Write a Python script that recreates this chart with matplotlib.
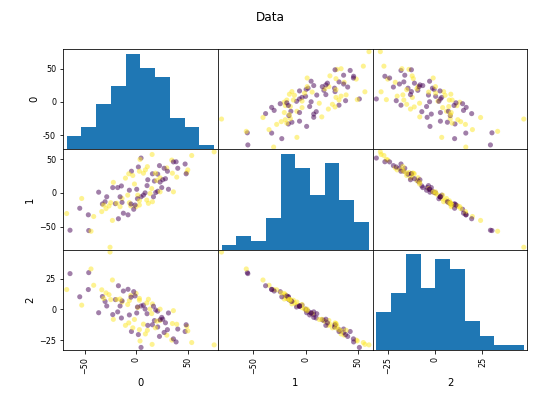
import pandas as pd
import matplotlib
matplotlib.use('Agg')
import matplotlib.pyplot as plt
from matplotlib.ticker import MultipleLocator
from pandas.plotting import scatter_matrix

# values (100 samples, 3 features, 2 classes)
col0 = [75.2, 4.5, 3.5, 15.2, 53.5, 34.2, 35.8, 38.4, 47.1, 22.3,
        29.4, 26.8, 30.0, 40.0, 49.7, 48.7, 48.1, 10.6, 8.7, 6.8,
        1.9, -4.8, -7.4, -3.5, -10.6, 2.9, 15.5, 20.6, 18.4, 22.9,
        34.8, 39.0, 11.0, 17.4, 19.7, 25.5, 28.1, 22.9, -22.3, -14.5,
        -18.1, -22.9, -1.9, 10.3, 14.8, 24.5, 31.0, 0.3, -6.8, -36.5,
        -28.7, 8.4, 6.8, 4.5, 1.3, 18.7, 20.6, 22.9, -8.4, -13.9,
        -52.9, 1.0, 2.9, 10.0, 15.5, -30.3, -32.9, -31.6, -24.8, -26.5,
        -20.3, -13.9, -15.8, -6.8, -5.5, -5.2, 2.9, -0.3, -54.8, -2.6,
        -29.4, -67.4, -46.5, -41.3, -8.1, -17.4, -23.2, -64.2, -46.1, -43.9,
        -25.5, -33.5, -12.6, -19.0, -1.3, 11.6, -15.8, 13.2, 16.5, 35.8]

col1 = [60.7, 51.5, 49.5, 56.8, 55.3, 48.5, 45.8, 46.0, 42.7, 40.3,
        36.9, 36.4, 32.0, 36.4, 34.0, 30.1, 28.2, 38.8, 34.0, 29.1,
        38.3, 32.0, 28.2, 25.7, 21.8, 32.0, 28.2, 27.7, 29.1, 22.3,
        29.1, 23.3, 19.4, 17.5, 18.4, 19.4, 20.9, 16.0, 15.5, 10.2,
        7.8, 7.8, 13.1, 10.7, 6.3, 7.8, 5.3, 5.3, 3.9, 1.0,
        -5.8, 0.0, -3.4, -5.8, -3.4, 0.5, 2.4, 1.5, -3.4, -8.3,
        -8.3, -8.7, -11.7, -10.7, -13.1, -13.1, -16.5, -18.0, -14.6, -19.4,
        -16.0, -14.1, -20.4, -14.6, -19.4, -16.5, -18.0, -20.4, -22.8, -24.3,
        -23.3, -30.6, -32.5, -35.0, -32.5, -38.3, -40.8, -55.3, -55.8, -56.8,
        -80.5, -27.7, -30.1, -15.5, -18.0, -15.5, -5.8, -1.0, -5.8, 1.5]

col2 = [-28.9, -31.0, -25.7, -28.5, -27.0, -25.0, -24.0, -26.5, -18.0, -22.0,
        -21.0, -18.8, -16.5, -16.0, -17.5, -13.8, -12.5, -17.0, -20.0, -12.0,
        -20.5, -18.0, -11.0, -15.0, -13.0, -16.5, -12.5, -14.3, -15.0, -9.0,
        -11.5, -12.1, -13.0, -9.1, -9.6, -8.0, -10.9, -8.4, -8.1, -7.0,
        -2.0, -4.2, -8.2, -3.5, -3.4, -6.5, -2.9, -2.9, -4.5, -2.7,
        2.8, 0.3, 3.5, 2.8, 1.5, -0.5, -1.4, 0.2, 4.0, 6.0,
        3.5, 2.0, 7.5, 5.3, 4.5, 6.5, 10.5, 9.0, 8.0, 12.0,
        8.0, 7.0, 8.5, 7.2, 11.5, 10.0, 9.0, 13.0, 10.3, 14.5,
        13.5, 16.2, 16.2, 19.7, 16.4, 19.3, 24.0, 29.2, 30.0, 33.0,
        46.8, 16.0, 15.0, 8.1, 11.0, 8.3, 2.8, 0.3, 2.6, -1.0]

# 0 = purple, 1 = yellow
labels = [1, 0, 1, 1, 1, 1, 0, 0, 0, 0,
          1, 0, 0, 0, 1, 1, 0, 1, 1, 1,
          0, 0, 1, 1, 1, 1, 0, 0, 1, 1,
          1, 1, 0, 0, 1, 0, 0, 0, 1, 0,
          0, 0, 1, 0, 1, 0, 0, 0, 0, 0,
          0, 0, 0, 0, 1, 0, 0, 1, 1, 1,
          1, 0, 1, 1, 1, 0, 0, 1, 1, 1,
          0, 0, 1, 1, 1, 0, 1, 1, 0, 0,
          1, 1, 0, 1, 0, 0, 1, 0, 0, 1,
          1, 1, 0, 1, 0, 1, 0, 1, 0, 1]

df = pd.DataFrame({0: col0, 1: col1, 2: col2})

plt.rcParams['figure.dpi'] = 72
axes = scatter_matrix(df, c=labels, marker='o', s=26,
                      figsize=(541 / 72, 414 / 72))
# third feature uses steps of 25 in the reference
axes[2][0].yaxis.set_major_locator(MultipleLocator(25))
axes[2][2].xaxis.set_major_locator(MultipleLocator(25))

fig = plt.gcf()
fig.subplots_adjust(left=0.1165, right=0.975, top=0.881, bottom=0.155,
                    wspace=0, hspace=0)
fig.suptitle('Data', y=0.957, va='center')
fig.savefig('out.png', dpi=72)
